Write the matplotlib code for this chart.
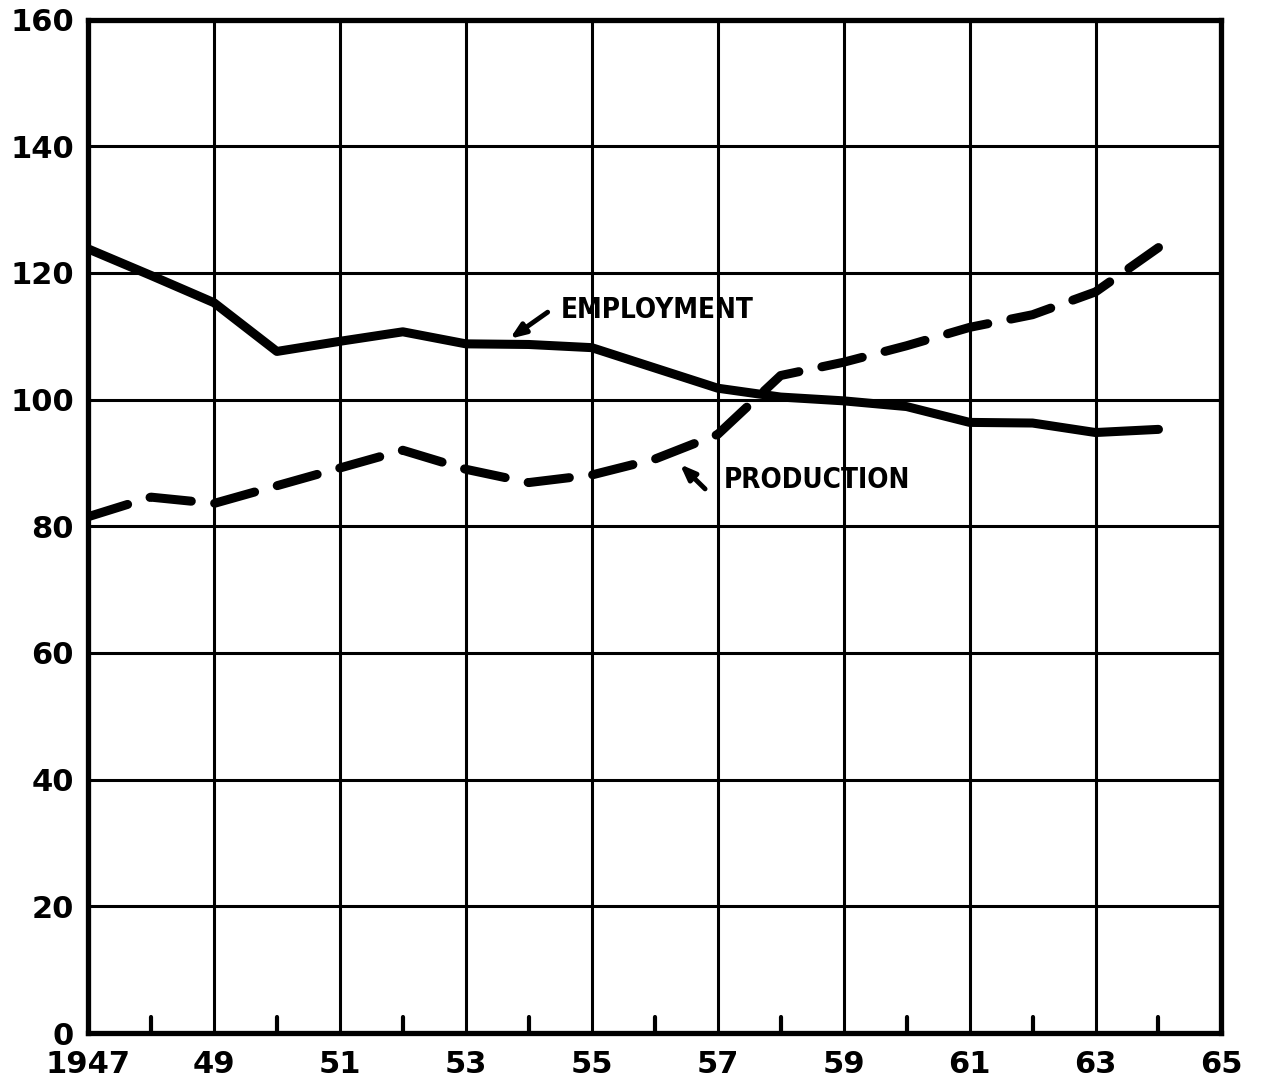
import matplotlib
matplotlib.use("Agg")
import matplotlib.pyplot as plt

years = [1947, 1948, 1949, 1950, 1951, 1952, 1953, 1954, 1955,
         1956, 1957, 1958, 1959, 1960, 1961, 1962, 1963, 1964]
employment = [123.8, 119.6, 115.3, 107.6, 109.2, 110.7, 108.8, 108.7, 108.2,
              105.0, 101.8, 100.4, 99.8, 98.9, 96.4, 96.3, 94.8, 95.3]
production = [81.5, 84.6, 83.6, 86.4, 89.2, 92.0, 89.0, 86.9, 88.1,
              90.6, 94.5, 103.8, 105.9, 108.5, 111.4, 113.4, 117.0, 124.0]

y_ticks = [0, 20, 40, 60, 80, 100, 120, 140, 160]
y_labels = ["0", "20", "40", "60", "80", "100", "120", "140", "160"]
x_ticks = [1947, 1949, 1951, 1953, 1955, 1957, 1959, 1961, 1963, 1965]
x_labels = ["1947", "49", "51", "53", "55", "57", "59", "61", "63", "65"]
minor_years = [1948, 1950, 1952, 1954, 1956, 1958, 1960, 1962, 1964]

fig = plt.figure(figsize=(12.75, 10.84), dpi=100)
ax = fig.add_axes([0.069, 0.047, 0.889, 0.935])

ax.set_xlim(1947, 1965)
ax.set_ylim(0, 160)

# grid: odd years vertical, every 20 horizontal
for x in x_ticks[1:-1]:
    ax.axvline(x, color="black", lw=2.2, zorder=1)
for y in y_ticks[1:-1]:
    ax.axhline(y, color="black", lw=2.2, zorder=1)

# small upward ticks on the even years
for x in minor_years:
    ax.plot([x, x], [0, 2.6], color="black", lw=3, solid_capstyle="round", zorder=2)

ax.plot(years, employment, color="black", lw=6.5, solid_joinstyle="round",
        solid_capstyle="round", zorder=3)
ax.plot(years, production, color="black", lw=6.5, dashes=(4.6, 2.6),
        dash_capstyle="round", zorder=3)

for s in ax.spines.values():
    s.set_linewidth(3.8)

ax.set_xticks(x_ticks)
ax.set_xticklabels(x_labels)
ax.set_yticks(y_ticks)
ax.set_yticklabels(y_labels)
ax.tick_params(axis="both", length=0, labelsize=22)
ax.tick_params(axis="x", pad=12)
ax.tick_params(axis="y", pad=10)
for lab in ax.get_xticklabels() + ax.get_yticklabels():
    lab.set_fontweight("bold")

# labels with their little arrows
ax.text(1954.5, 114.2, "EMPLOYMENT", fontsize=20, fontweight="bold",
        fontstretch="condensed", va="center", ha="left")
ax.annotate("", xy=(1953.7, 109.6), xytext=(1954.3, 113.8),
            arrowprops=dict(arrowstyle="-|>,head_length=0.9,head_width=0.35",
                            color="black", lw=3.5, shrinkA=0, shrinkB=0))
ax.text(1957.1, 87.3, "PRODUCTION", fontsize=20, fontweight="bold",
        fontstretch="condensed", va="center", ha="left")
ax.annotate("", xy=(1956.4, 89.8), xytext=(1956.8, 85.9),
            arrowprops=dict(arrowstyle="-|>,head_length=0.9,head_width=0.35",
                            color="black", lw=3.5, shrinkA=0, shrinkB=0))

fig.savefig("out.png", dpi=100)
